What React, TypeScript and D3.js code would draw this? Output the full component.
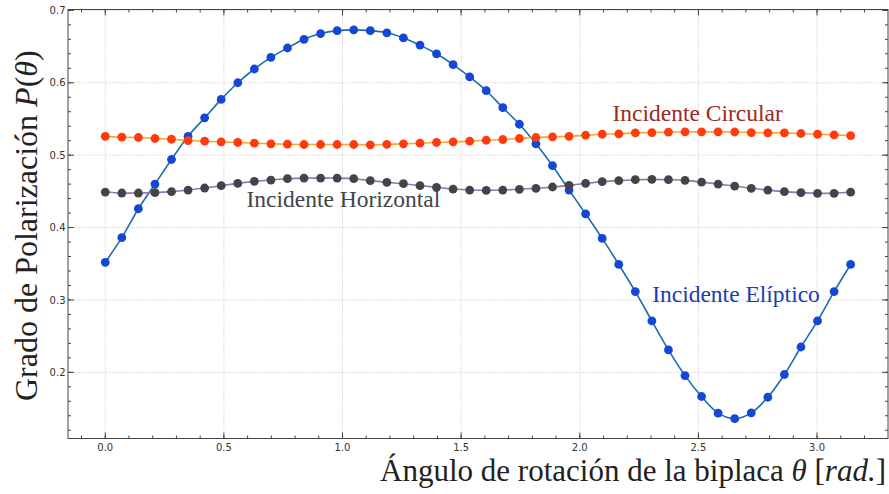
import React from "react";
import * as d3 from "d3";

// theta samples: 46 points from 0 to pi
const nPoints = 46;
const theta = d3.range(nPoints).map((i) => (i * Math.PI) / (nPoints - 1));

const eliptico = [
  0.352, 0.386, 0.426, 0.46, 0.494, 0.526, 0.5515, 0.577, 0.6, 0.619,
  0.635, 0.648, 0.66, 0.668, 0.672, 0.673, 0.672, 0.669, 0.662, 0.652,
  0.64, 0.625, 0.608, 0.589, 0.5656, 0.5427, 0.5157, 0.4854, 0.4518, 0.4188,
  0.385, 0.349, 0.3115, 0.271, 0.231, 0.1955, 0.1666, 0.1436, 0.136, 0.144,
  0.1656, 0.197, 0.235, 0.271, 0.3115, 0.349,
];

const circular = [
  0.526, 0.5248, 0.5244, 0.523, 0.522, 0.5202, 0.5193, 0.5184, 0.5175, 0.5165,
  0.5157, 0.5151, 0.5147, 0.5147, 0.5147, 0.5147, 0.5143, 0.515, 0.5157, 0.5165,
  0.5175, 0.5184, 0.5193, 0.5206, 0.5216, 0.523, 0.5244, 0.5253, 0.526, 0.5275,
  0.5289, 0.5294, 0.5308, 0.5312, 0.5317, 0.5322, 0.5322, 0.5322, 0.532, 0.5312,
  0.5308, 0.5308, 0.5299, 0.5289, 0.528, 0.5271,
];

const horizontal = [
  0.449, 0.4477, 0.4477, 0.4482, 0.4496, 0.4518, 0.4546, 0.4579, 0.461, 0.4638,
  0.4656, 0.4675, 0.4683, 0.4683, 0.4683, 0.4675, 0.4648, 0.4624, 0.4606, 0.4579,
  0.4556, 0.4532, 0.4518, 0.4514, 0.4518, 0.4528, 0.4542, 0.456, 0.4583, 0.461,
  0.4634, 0.4648, 0.4661, 0.4666, 0.4661, 0.4652, 0.4628, 0.4601, 0.4573, 0.4542,
  0.4518, 0.4496, 0.4482, 0.4473, 0.4473, 0.449,
];

const xTicks = [0, 0.5, 1.0, 1.5, 2.0, 2.5, 3.0];
const yTicks = [0.2, 0.3, 0.4, 0.5, 0.6, 0.7];

const series = [
  { name: "Incidente Elíptico", values: eliptico, line: "#1b6cb0", dot: "#1447d6" },
  { name: "Incidente Circular", values: circular, line: "#ffa424", dot: "#ff3a0c" },
  { name: "Incidente Horizontal", values: horizontal, line: "#9a70b6", dot: "#444444" },
];

const labels = [
  { text: "Incidente Circular", x: 2.138, y: 0.547, color: "#9b2b1f" },
  { text: "Incidente Horizontal", x: 0.595, y: 0.4277, color: "#454545" },
  { text: "Incidente Elíptico", x: 2.305, y: 0.2977, color: "#1a3cb8" },
];

const W = 889;
const H = 494;
const left = 68;
const right = 888;
const top = 9.5;
const bottom = 438.5;

export default function App() {
  const x = d3.scaleLinear().domain([-0.157, 3.299]).range([left, right]);
  const y = d3.scaleLinear().domain([0.1086, 0.7012]).range([bottom, top]);

  const line = d3
    .line<number>()
    .x((_, i) => x(theta[i]))
    .y((d) => y(d))
    .curve(d3.curveCatmullRom);

  const xMinor = x.ticks(35);
  const yMinor = y.ticks(30);
  const tickFont = "DejaVu Sans, sans-serif";
  const serif = "Liberation Serif, Times New Roman, serif";
  const spine = "#444";

  return (
    <svg
      width={W}
      height={H}
      style={{ position: "absolute", left: 0, top: 0, background: "#fff" }}
    >
      {/* grid */}
      {xTicks.map((t) => (
        <line key={"gx" + t} x1={x(t)} x2={x(t)} y1={top} y2={bottom}
          stroke="#c4c4c4" strokeWidth={0.8} strokeDasharray="1,1.2" />
      ))}
      {yTicks.map((t) => (
        <line key={"gy" + t} x1={left} x2={right} y1={y(t)} y2={y(t)}
          stroke="#c4c4c4" strokeWidth={0.8} strokeDasharray="1,1.2" />
      ))}

      {/* series */}
      {series.map((s) => (
        <g key={s.name}>
          <path d={line(s.values) || ""} fill="none" stroke={s.line} strokeWidth={1.6} />
          {s.values.map((v, i) => (
            <circle key={i} cx={x(theta[i])} cy={y(v)} r={4.4} fill={s.dot} />
          ))}
        </g>
      ))}

      {/* annotations */}
      {labels.map((l) => (
        <text key={l.text} x={x(l.x)} y={y(l.y)} fill={l.color}
          fontFamily={serif} fontSize={23.5}>
          {l.text}
        </text>
      ))}

      {/* spines */}
      <rect x={left} y={top} width={right - left} height={bottom - top}
        fill="none" stroke={spine} strokeWidth={1} />

      {/* minor ticks */}
      {xMinor.map((t) => (
        <g key={"mx" + t}>
          <line x1={x(t)} x2={x(t)} y1={bottom} y2={bottom - 3} stroke={spine} />
          <line x1={x(t)} x2={x(t)} y1={top} y2={top + 3} stroke={spine} />
        </g>
      ))}
      {yMinor.map((t) => (
        <g key={"my" + t}>
          <line x1={left} x2={left + 3} y1={y(t)} y2={y(t)} stroke={spine} />
          <line x1={right} x2={right - 3} y1={y(t)} y2={y(t)} stroke={spine} />
        </g>
      ))}

      {/* major ticks + labels */}
      {xTicks.map((t) => (
        <g key={"tx" + t}>
          <line x1={x(t)} x2={x(t)} y1={bottom} y2={bottom - 6} stroke={spine} />
          <line x1={x(t)} x2={x(t)} y1={top} y2={top + 6} stroke={spine} />
          <text x={x(t)} y={450.5} textAnchor="middle" fontFamily={tickFont}
            fontSize={10} fill="#333">
            {t.toFixed(1)}
          </text>
        </g>
      ))}
      {yTicks.map((t) => (
        <g key={"ty" + t}>
          <line x1={left} x2={left + 6} y1={y(t)} y2={y(t)} stroke={spine} />
          <line x1={right} x2={right - 6} y1={y(t)} y2={y(t)} stroke={spine} />
          <text x={65.5} y={y(t) + 3.6} textAnchor="end" fontFamily={tickFont}
            fontSize={10} fill="#333">
            {t.toFixed(1)}
          </text>
        </g>
      ))}

      {/* axis labels */}
      <text x={886} y={481} textAnchor="end" fontFamily={serif} fontSize={31} fill="#222">
        Ángulo de rotación de la biplaca <tspan fontStyle="italic">θ</tspan> [
        <tspan fontStyle="italic">rad.</tspan>]
      </text>
      <text transform="translate(37,401) rotate(-90)" textAnchor="start"
        fontFamily={serif} fontSize={32} fill="#222">
        Grado de Polarización <tspan fontStyle="italic">P</tspan>(
        <tspan fontStyle="italic">θ</tspan>)
      </text>
    </svg>
  );
}
